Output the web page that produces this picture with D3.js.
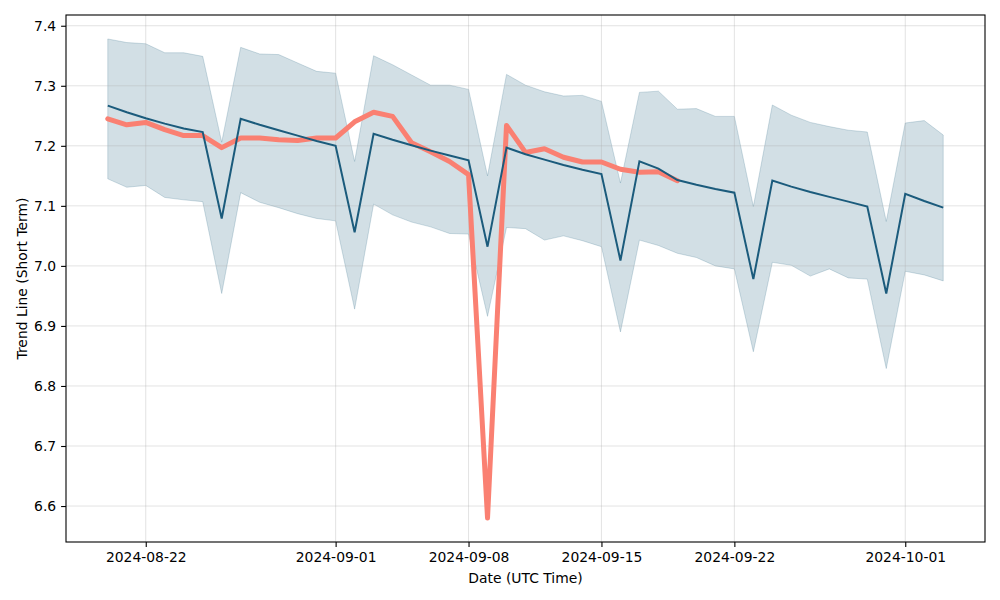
<!DOCTYPE html>
<html>
<head>
<meta charset="utf-8">
<script src="https://cdn.jsdelivr.net/npm/d3@7"></script>
<style>
  body { margin: 0; background: #fff; }
  svg { display: block; font-family: "DejaVu Sans", sans-serif; }
</style>
</head>
<body>
<svg id="chart" width="1000" height="600"></svg>
<script>
// ---- data ----
const startDate = "2024-08-20";
const trend = [7.267, 7.256, 7.246, 7.237, 7.229, 7.223, 7.079,
  7.245, 7.235, 7.226, 7.217, 7.208, 7.200, 7.056,
  7.220, 7.210, 7.201, 7.192, 7.184, 7.176, 7.032,
  7.197, 7.186, 7.177, 7.168, 7.160, 7.153, 7.009,
  7.174, 7.162, 7.143, 7.135, 7.128, 7.122, 6.978,
  7.142, 7.132, 7.123, 7.115, 7.107, 7.099, 6.954,
  7.120, 7.108, 7.097];
const upper = [7.378, 7.372, 7.370, 7.355, 7.355, 7.349, 7.206,
  7.364, 7.353, 7.352, 7.338, 7.324, 7.321, 7.174,
  7.350, 7.335, 7.318, 7.301, 7.301, 7.294, 7.150,
  7.319, 7.301, 7.290, 7.283, 7.284, 7.274, 7.138,
  7.289, 7.291, 7.261, 7.262, 7.249, 7.249, 7.099,
  7.268, 7.251, 7.239, 7.232, 7.226, 7.223, 7.074,
  7.238, 7.242, 7.218];
const lower = [7.145, 7.131, 7.134, 7.114, 7.110, 7.107, 6.954,
  7.122, 7.106, 7.097, 7.087, 7.079, 7.075, 6.928,
  7.103, 7.085, 7.073, 7.065, 7.054, 7.053, 6.916,
  7.064, 7.062, 7.043, 7.050, 7.042, 7.032, 6.890,
  7.043, 7.034, 7.021, 7.014, 7.000, 6.995, 6.857,
  7.006, 7.001, 6.983, 6.995, 6.980, 6.978, 6.829,
  6.991, 6.985, 6.975];
const actual = [7.245, 7.235, 7.239, 7.227, 7.217, 7.217, 7.197,
  7.213, 7.213, 7.210, 7.209, 7.213, 7.213, 7.240,
  7.256, 7.249, 7.205, 7.190, 7.174, 7.152, 6.580,
  7.234, 7.189, 7.195, 7.181, 7.173, 7.173, 7.161,
  7.156, 7.157, 7.142];
const xTicks = ["2024-08-22", "2024-09-01", "2024-09-08", "2024-09-15", "2024-09-22", "2024-10-01"];
const yTicks = [6.6, 6.7, 6.8, 6.9, 7.0, 7.1, 7.2, 7.3, 7.4];

// ---- helpers ----
const parse = d3.utcParse("%Y-%m-%d");
const t0 = parse(startDate);
const dates = trend.map((_, i) => d3.utcDay.offset(t0, i));

const margin = { left: 66, right: 15, top: 15, bottom: 58 };
const W = 1000, H = 600;
const svg = d3.select("#chart");

const xMin = dates[0], xMax = dates[dates.length - 1];
const xSpan = xMax - xMin;
const x = d3.scaleUtc()
  .domain([new Date(+xMin - xSpan * 0.05), new Date(+xMax + xSpan * 0.05)])
  .range([margin.left, W - margin.right]);

const yLo = d3.min([...lower, ...actual]), yHi = d3.max([...upper, ...actual]);
const ySpan = yHi - yLo;
const y = d3.scaleLinear()
  .domain([yLo - ySpan * 0.05, yHi + ySpan * 0.05])
  .range([H - margin.bottom, margin.top]);

// band
const band = d3.area()
  .x((d, i) => x(dates[i]))
  .y0((d, i) => y(lower[i]))
  .y1((d, i) => y(upper[i]));
svg.append("path")
  .datum(trend)
  .attr("d", band)
  .attr("fill", "#1f5f7f")
  .attr("fill-opacity", 0.2)
  .attr("stroke", "#1f5f7f")
  .attr("stroke-opacity", 0.2)
  .attr("stroke-width", 1);

// grid
const g = svg.append("g");
g.selectAll("line.gx").data(xTicks).join("line")
  .attr("x1", d => x(parse(d))).attr("x2", d => x(parse(d)))
  .attr("y1", margin.top).attr("y2", H - margin.bottom)
  .attr("stroke", "#b0b0b0").attr("stroke-opacity", 0.35).attr("stroke-width", 1);
g.selectAll("line.gy").data(yTicks).join("line")
  .attr("y1", d => y(d)).attr("y2", d => y(d))
  .attr("x1", margin.left).attr("x2", W - margin.right)
  .attr("stroke", "#b0b0b0").attr("stroke-opacity", 0.35).attr("stroke-width", 1);

// actual line
const line = d3.line().x((d, i) => x(dates[i])).y(d => y(d));
svg.append("path")
  .datum(actual)
  .attr("d", line)
  .attr("fill", "none")
  .attr("stroke", "#fa8072")
  .attr("stroke-width", 5)
  .attr("stroke-linejoin", "round")
  .attr("stroke-linecap", "round");

// trend line
svg.append("path")
  .datum(trend)
  .attr("d", line)
  .attr("fill", "none")
  .attr("stroke", "#1b5b7c")
  .attr("stroke-width", 2);

// axes
const xAxis = d3.axisBottom(x)
  .tickValues(xTicks.map(parse))
  .tickFormat(d3.utcFormat("%Y-%m-%d"))
  .tickSizeOuter(0).tickSize(4.9).tickPadding(4.9);
const yAxis = d3.axisLeft(y)
  .tickValues(yTicks)
  .tickFormat(d3.format(".1f"))
  .tickSizeOuter(0).tickSize(4.9).tickPadding(4.9);

const gx = svg.append("g").attr("transform", `translate(0,${H - margin.bottom})`).call(xAxis);
const gy = svg.append("g").attr("transform", `translate(${margin.left},0)`).call(yAxis);
[gx, gy].forEach(a => {
  a.selectAll("text").attr("font-size", 13.9).attr("font-family", "DejaVu Sans").attr("fill", "#000");
  a.selectAll("line").attr("stroke", "#000").attr("stroke-width", 1.1);
  a.select(".domain").remove();
});

// frame
svg.append("rect")
  .attr("x", margin.left).attr("y", margin.top)
  .attr("width", W - margin.left - margin.right)
  .attr("height", H - margin.top - margin.bottom)
  .attr("fill", "none").attr("stroke", "#000").attr("stroke-width", 1.1);

// labels
svg.append("text")
  .attr("x", (margin.left + W - margin.right) / 2)
  .attr("y", 583)
  .attr("text-anchor", "middle")
  .attr("font-size", 13.9)
  .text("Date (UTC Time)");
svg.append("text")
  .attr("transform", `translate(27,${(margin.top + H - margin.bottom) / 2}) rotate(-90)`)
  .attr("text-anchor", "middle")
  .attr("font-size", 13.9)
  .text("Trend Line (Short Term)");
</script>
</body>
</html>
